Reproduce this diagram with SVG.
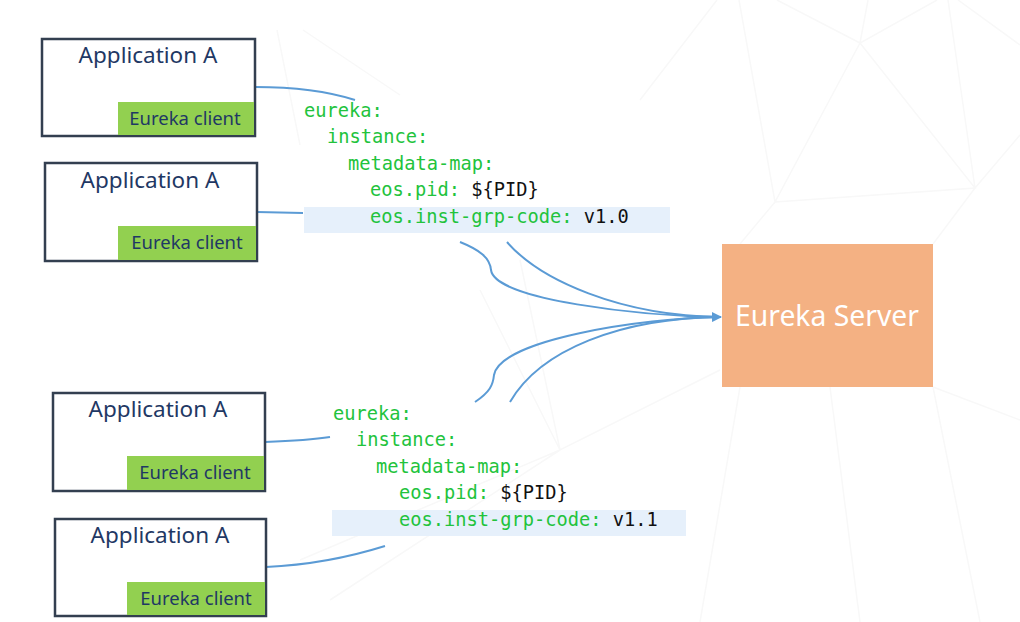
<svg xmlns="http://www.w3.org/2000/svg" width="1020" height="622" viewBox="0 0 1020 622">
<defs>
<style>
.bg{stroke:#f8f8f8;stroke-width:1.5;fill:none}
.app{fill:#fff;stroke:#333f50;stroke-width:2.5}
.cli{fill:#92d050}
.t1{font-family:"Noto Sans","Open Sans",sans-serif;font-size:22.5px;fill:#1f3864;text-anchor:middle}
.t2{font-family:"Noto Sans","Open Sans",sans-serif;font-size:18.5px;fill:#1f3864;text-anchor:middle}
.code{font-family:"DejaVu Sans Mono","Liberation Mono",monospace;font-size:18.7px;fill:#22c33c}
.code .v{fill:#111}
.hl{fill:#e6f0fb}
.conn{fill:none;stroke:#5b9bd5;stroke-width:2}
</style>
<marker id="arr" viewBox="0 0 10 10" refX="9" refY="5" markerWidth="5" markerHeight="5" orient="auto" markerUnits="strokeWidth">
<path d="M0,0 L10,5 L0,10 z" fill="#5b9bd5"/>
</marker>
</defs>
<rect width="1020" height="622" fill="#fff"/>
<g id="background">
<path class="bg" d="M640,100 L717,0 M739,0 L775,202 L860,43 L937,0 M860,43 L868,0 M777,0 L860,43 M860,43 L975,188 L775,202 M975,188 L1020,135 M948,0 L975,188 M958,0 L1020,45 M277,30 L300,145 M303,30 L400,95 M775,202 L740,244 M975,188 L933,244 M520,260 L560,450 L720,370 M480,290 L560,450 M933,387 L1020,420 M740,387 L700,622 M933,387 L980,622 M560,450 L300,560 M830,387 L860,622 M330,600 L560,450"/>
</g>
<g id="connectors">
<path class="conn" d="M255,87 C300,87 330,92 355,100"/>
<path class="conn" d="M257,212 L303,213"/>
<path class="conn" d="M265,442 C290,441 310,440 330,437"/>
<path class="conn" d="M266,567 C310,565 350,557 385,546"/>
<path class="conn" d="M460,242 C480,250 490,258 491,270 C495,300 640,316 721,317"/>
<path class="conn" d="M507,242 C540,280 620,316 721,317"/>
<path class="conn" d="M475,402 C490,392 493,385 494,375 C500,340 640,318 721,317"/>
<path class="conn" d="M510,402 C540,350 620,318 721,317" marker-end="url(#arr)"/>
</g>
<g id="appA1">
<rect class="app" x="42" y="39" width="213" height="97"/>
<text class="t1" x="148" y="63">Application A</text>
<rect class="cli" x="118" y="102" width="136" height="33"/>
<text class="t2" x="185" y="125">Eureka client</text>
</g>
<g id="appA2">
<rect class="app" x="45" y="163" width="212" height="98"/>
<text class="t1" x="150" y="188">Application A</text>
<rect class="cli" x="118" y="226" width="138" height="34"/>
<text class="t2" x="187" y="249">Eureka client</text>
</g>
<g id="appA3">
<rect class="app" x="53" y="393" width="212" height="98"/>
<text class="t1" x="158" y="417">Application A</text>
<rect class="cli" x="127" y="456" width="137" height="34"/>
<text class="t2" x="195" y="479">Eureka client</text>
</g>
<g id="appA4">
<rect class="app" x="55" y="519" width="211" height="97"/>
<text class="t1" x="160" y="543">Application A</text>
<rect class="cli" x="127" y="582" width="138" height="33"/>
<text class="t2" x="196" y="605">Eureka client</text>
</g>
<g id="config1">
<rect class="hl" x="304" y="207" width="366" height="26"/>
<text class="code" x="304" y="117">eureka:</text>
<text class="code" x="327" y="143">instance:</text>
<text class="code" x="348" y="170">metadata-map:</text>
<text class="code" x="370" y="196">eos.pid: <tspan class="v">${PID}</tspan></text>
<text class="code" x="370" y="223">eos.inst-grp-code: <tspan class="v">v1.0</tspan></text>
</g>
<g id="config2">
<rect class="hl" x="332" y="510" width="354" height="26"/>
<text class="code" x="333" y="420">eureka:</text>
<text class="code" x="356" y="446">instance:</text>
<text class="code" x="376" y="473">metadata-map:</text>
<text class="code" x="399" y="499">eos.pid: <tspan class="v">${PID}</tspan></text>
<text class="code" x="399" y="526">eos.inst-grp-code: <tspan class="v">v1.1</tspan></text>
</g>
<g id="eurekaServer">
<rect x="722" y="244" width="211" height="143" fill="#f4b183"/>
<text x="827" y="326" font-family="Noto Sans,Open Sans,sans-serif" font-size="28.3" fill="#fff" text-anchor="middle">Eureka Server</text>
</g>
</svg>
